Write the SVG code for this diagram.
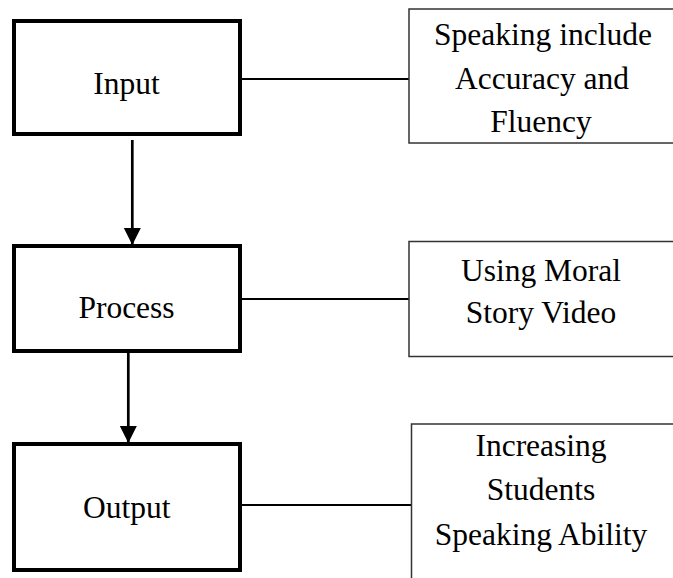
<svg xmlns="http://www.w3.org/2000/svg" width="673" height="578" viewBox="0 0 673 578">
<style>
  .main { fill: #fff; stroke: #000; stroke-width: 4; }
  .note { fill: #fff; stroke: #333; stroke-width: 1.5; }
  .t { font-family: "Liberation Serif", "Times New Roman", serif; font-size: 31.5px; fill: #000; text-anchor: middle; }
  .link { stroke: #000; stroke-width: 2; fill: none; }
  .arrow { stroke: #000; stroke-width: 2.7; fill: none; marker-end: url(#ah); }
</style>
<defs>
  <marker id="ah" markerUnits="userSpaceOnUse" markerWidth="17" markerHeight="18" refX="16" refY="9" orient="auto" overflow="visible">
    <path d="M0,0.5 L17,9 L0,17.5 Z" fill="#000"/>
  </marker>
</defs>
<rect width="673" height="578" fill="#fff"/>
<g id="connectors">
  <line class="link" x1="242" y1="79" x2="409" y2="79"/>
  <line class="link" x1="242" y1="299" x2="409" y2="299"/>
  <line class="link" x1="242" y1="505" x2="411" y2="505"/>
  <line class="arrow" x1="132.3" y1="140" x2="132.3" y2="244"/>
  <line class="arrow" x1="128.3" y1="353" x2="128.3" y2="442"/>
</g>
<g id="input">
  <rect class="main" x="14" y="21" width="226" height="113"/>
  <text class="t" x="126.5" y="94">Input</text>
</g>
<g id="process">
  <rect class="main" x="14" y="246" width="226" height="105"/>
  <text class="t" x="126.5" y="318">Process</text>
</g>
<g id="output">
  <rect class="main" x="14" y="444" width="226" height="126"/>
  <text class="t" x="126.7" y="518">Output</text>
</g>
<g id="note1">
  <rect class="note" x="409" y="9" width="280" height="134"/>
  <text class="t" x="543" y="45">Speaking include</text>
  <text class="t" x="542" y="89">Accuracy and</text>
  <text class="t" x="541" y="132">Fluency</text>
</g>
<g id="note2">
  <rect class="note" x="409" y="241.5" width="280" height="115"/>
  <text class="t" x="541" y="280.5">Using Moral</text>
  <text class="t" x="541" y="322.5">Story Video</text>
</g>
<g id="note3">
  <rect class="note" x="411.5" y="424" width="280" height="200"/>
  <text class="t" x="541" y="456">Increasing</text>
  <text class="t" x="541" y="500">Students</text>
  <text class="t" x="541" y="545">Speaking Ability</text>
</g>
</svg>
